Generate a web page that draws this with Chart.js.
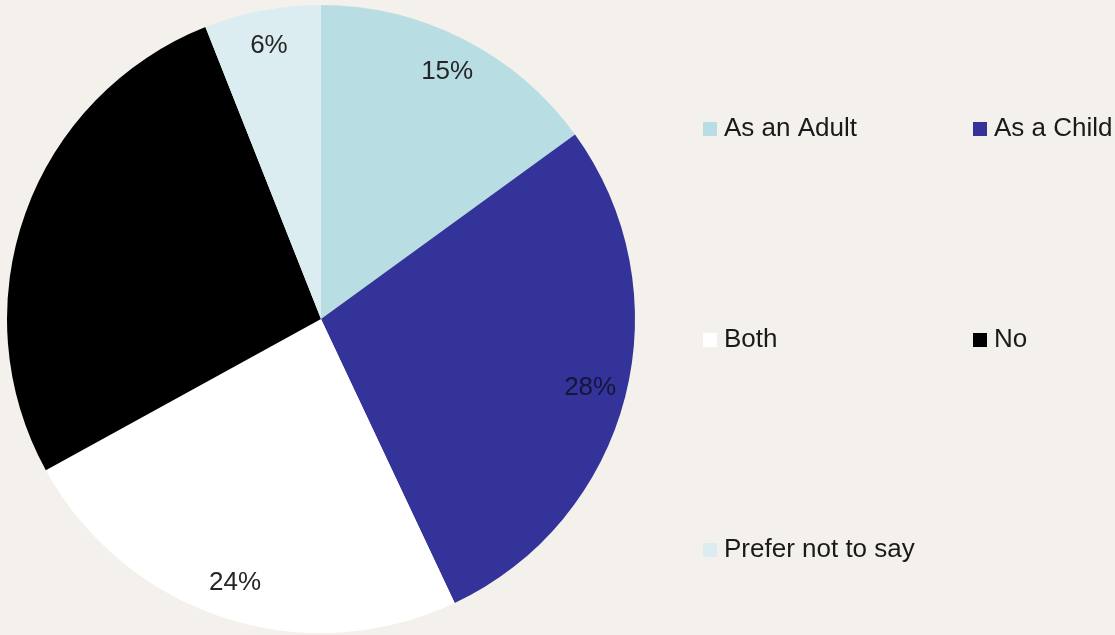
<!DOCTYPE html>
<html>
<head>
<meta charset="utf-8">
<script src="https://cdn.jsdelivr.net/npm/chart.js@4"></script>
<style>
  html, body { margin: 0; padding: 0; background: #f4f1ed; }
  #wrap { width: 1115px; height: 635px; }
</style>
</head>
<body>
<div id="wrap"><canvas id="abusePie"></canvas></div>
<script>
const categories = ['As an Adult', 'As a Child', 'Both', 'No', 'Prefer not to say']
const shares = [15, 28, 24, 27, 6]
const sliceColors = ['#b8dde3', '#333399', '#ffffff', '#000000', '#dbedf0']

const FONT = '"Liberation Sans", Arial, sans-serif'

// percent labels inside each slice (dark text, so the one on black disappears)
const sliceLabels = {
    id: 'sliceLabels',
    afterDatasetsDraw(chart, args, opts) {
        const ctx = chart.ctx
        const meta = chart.getDatasetMeta(0)
        ctx.save()
        ctx.font = '26px ' + FONT
        ctx.textAlign = 'center'
        ctx.textBaseline = 'middle'
        meta.data.forEach((arc, i) => {
            const mid = (arc.startAngle + arc.endAngle) / 2
            const r = arc.outerRadius * opts.radius
            ctx.fillStyle = opts.colors[i]
            ctx.fillText(shares[i] + '%', arc.x + Math.cos(mid) * r, arc.y + Math.sin(mid) * r)
        })
        ctx.restore()
    }
}

// two column legend to the right of the pie
const sideLegend = {
    id: 'sideLegend',
    afterDraw(chart, args, opts) {
        const ctx = chart.ctx
        ctx.save()
        ctx.font = '26px ' + FONT
        ctx.textBaseline = 'middle'
        categories.forEach((name, i) => {
            const x = opts.cols[i % 2]
            const y = opts.rows[Math.floor(i / 2)]
            ctx.fillStyle = sliceColors[i]
            ctx.fillRect(x, y - 7, 14, 14)
            ctx.fillStyle = '#1a1a1a'
            ctx.fillText(name, x + 21, y)
        })
        ctx.restore()
    }
}

new Chart(document.getElementById('abusePie'), {
    type: 'pie',
    data: {
        labels: categories,
        datasets: [{
            data: shares,
            backgroundColor: sliceColors,
            borderWidth: 0
        }]
    },
    options: {
        responsive: true,
        maintainAspectRatio: false,
        animation: false,
        layout: { padding: { left: 7, top: 5, right: 480, bottom: 2 } },
        plugins: {
            legend: { display: false },
            tooltip: { enabled: false },
            sliceLabels: {
                colors: ['#262626', '#15153a', '#262626', '#000000', '#262626'],
                radius: 0.885
            },
            sideLegend: { cols: [703, 973], rows: [129, 340, 550] }
        }
    },
    plugins: [sliceLabels, sideLegend]
})
</script>
</body>
</html>
